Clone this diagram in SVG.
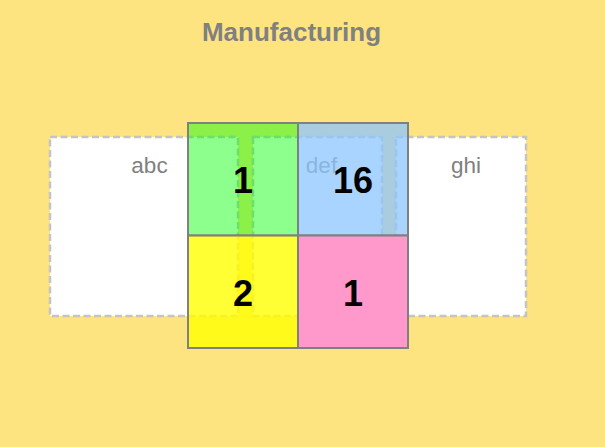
<svg xmlns="http://www.w3.org/2000/svg" width="605" height="447" viewBox="0 0 605 447">
<style>
.set{fill:#ffffff;stroke:#c4c4c4;stroke-width:2.5;stroke-dasharray:7,3.5}
.lbl{font-family:"Liberation Sans",Arial,sans-serif;font-size:22.5px;fill:#808080;text-anchor:middle}
.cell{stroke:#808080;stroke-width:2}
.num{font-family:"Liberation Sans",Arial,sans-serif;font-size:36px;font-weight:bold;fill:#000000;text-anchor:middle}
.title{font-family:"Liberation Sans",Arial,sans-serif;font-size:26px;font-weight:bold;fill:#808080;text-anchor:middle}
</style>
<rect x="0" y="0" width="605" height="447" fill="#fee381"/>
<text class="title" x="291.5" y="41">Manufacturing</text>
<g id="set-abc"><rect class="set" x="50" y="137" width="188" height="179"/><text class="lbl" x="149.5" y="172.5">abc</text></g>
<g id="set-def"><rect class="set" x="253" y="137" width="129" height="179"/><text class="lbl" x="321.5" y="172.5">def</text></g>
<g id="set-ghi"><rect class="set" x="396" y="137" width="130" height="179"/><text class="lbl" x="466" y="172.5">ghi</text></g>
<g id="cell-1"><rect class="cell" x="188" y="123" width="110" height="112.5" fill="#00ff00" fill-opacity="0.45"/><text class="num" x="243" y="193">1</text></g>
<g id="cell-16"><rect class="cell" x="298" y="123" width="110" height="112.5" fill="#8cc6ff" fill-opacity="0.75"/><text class="num" x="353" y="193">16</text></g>
<g id="cell-2"><rect class="cell" x="188" y="235.5" width="110" height="112.5" fill="#ffff00" fill-opacity="0.8"/><text class="num" x="243" y="305.5">2</text></g>
<g id="cell-1b"><rect class="cell" x="298" y="235.5" width="110" height="112.5" fill="#ff99cc"/><text class="num" x="353" y="305.5">1</text></g>
<g id="connectors"/>
</svg>
